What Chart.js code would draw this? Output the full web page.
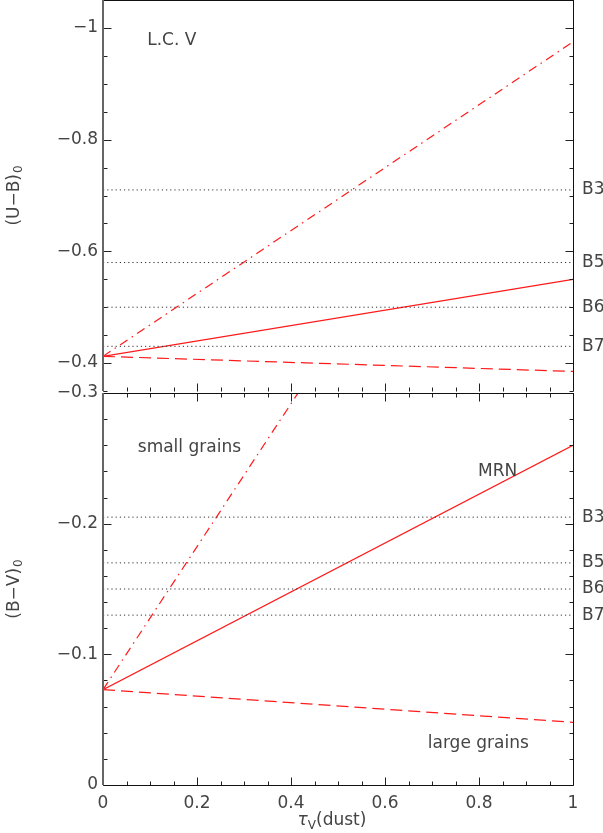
<!DOCTYPE html>
<html>
<head>
<meta charset="utf-8">
<script src="https://cdn.jsdelivr.net/npm/chart.js@4.4.1/dist/chart.umd.min.js"></script>
<style>
  html, body { margin: 0; padding: 0; background: #fff; }
  #wrap { position: relative; width: 603px; height: 833px; overflow: hidden; }
  canvas { position: absolute; left: 0; }
  #top { top: 0; }
  #bottom { top: 373px; }
</style>
</head>
<body>
<div id="wrap">
  <canvas id="top" width="603" height="392"></canvas>
  <canvas id="bottom" width="603" height="462"></canvas>
</div>
<script>
// optical depth of the dust shell
const tau = [0, 1];

// (U-B)0 of a B star seen through the dust: MRN, small grains, large grains
const ubMRN = [-0.412, -0.55];
const ubSmall = [-0.412, -0.975];
const ubLarge = [-0.412, -0.385];

// (B-V)0 for the same three grain models
const bvMRN = [-0.073, -0.26];
const bvSmall = [-0.073, -0.62];
const bvLarge = [-0.073, -0.048];

// intrinsic colours of luminosity class V stars
const spTypes = ['B3', 'B5', 'B6', 'B7'];
const ubStars = [-0.71, -0.58, -0.50, -0.43];
const bvStars = [-0.205, -0.17, -0.15, -0.13];

const FONT = "'DejaVu Sans', 'Liberation Sans', sans-serif";
const INK = '#444';
const RED = '#ff1a1a';

function pts(ys) {
    return tau.map((t, i) => ({ x: t, y: ys[i] }));
}

function track(ys, dash) {
    return {
        data: pts(ys),
        borderColor: RED,
        borderWidth: 1.2,
        borderDash: dash,
        pointRadius: 0,
        showLine: true,
        fill: false
    };
}

function level(v) {
    return {
        data: tau.map(t => ({ x: t, y: v })),
        borderColor: '#333',
        borderWidth: 1,
        borderDash: [1.2, 3],
        pointRadius: 0,
        showLine: true,
        fill: false
    };
}

// only the major values get a label
function majorLabel(step) {
    return function (value) {
        const k = value / step;
        if (Math.abs(k - Math.round(k)) > 1e-6) return null;
        if (Math.abs(value) < 1e-9) return '0';
        const s = Math.abs(value).toFixed(1).replace(/\.0$/, '');
        return (value < 0 ? '\u2212' : '') + s;
    };
}

function isMajor(v, step) {
    const k = v / step;
    return Math.abs(k - Math.round(k)) < 1e-6;
}

const crisp = v => Math.round(v) + 0.5;

// frame with inward ticks, PGPLOT style
const framePlugin = {
    id: 'frame',
    afterDatasetsDraw(chart, args, opts) {
        const { ctx, chartArea: a, scales } = chart;
        const ys = scales.y, xs = scales.x;
        const L = crisp(a.left), R = crisp(a.right), T = crisp(a.top), B = crisp(a.bottom);
        ctx.save();
        ctx.lineWidth = 1;
        ctx.strokeStyle = '#222';

        // y ticks on both sides
        let n = Math.round((ys.max - ys.min) / opts.yMinor);
        for (let i = 0; i <= n; i++) {
            const v = ys.min + i * opts.yMinor;
            const p = crisp(ys.getPixelForValue(v));
            const len = isMajor(v, opts.yMajor) ? 8 : 4;
            ctx.beginPath();
            ctx.moveTo(L, p); ctx.lineTo(L + len, p);
            ctx.moveTo(R, p); ctx.lineTo(R - len, p);
            ctx.stroke();
        }

        // x ticks on top and/or bottom edge
        n = Math.round(1 / 0.05);
        for (let i = 0; i <= n; i++) {
            const v = xs.min + i * 0.05;
            const p = crisp(xs.getPixelForValue(v));
            const len = isMajor(v, 0.2) ? 8 : 4;
            ctx.beginPath();
            if (opts.topTicks) { ctx.moveTo(p, T); ctx.lineTo(p, T + len); }
            if (opts.bottomTicks) { ctx.moveTo(p, B); ctx.lineTo(p, B - len); }
            ctx.stroke();
        }

        // box
        ctx.strokeStyle = '#111';
        ctx.beginPath();
        ctx.moveTo(L, T); ctx.lineTo(R, T);
        if (opts.bottomLine) { ctx.moveTo(L, B); ctx.lineTo(R, B); }
        ctx.moveTo(R, a.top); ctx.lineTo(R, a.bottom);
        ctx.stroke();
        ctx.strokeStyle = '#666';
        ctx.lineWidth = 2;
        ctx.beginPath();
        ctx.moveTo(Math.round(a.left), a.top); ctx.lineTo(Math.round(a.left), a.bottom);
        ctx.stroke();

        // text notes placed in data coordinates
        ctx.fillStyle = INK;
        ctx.font = '17px ' + FONT;
        ctx.textBaseline = 'middle';
        ctx.textAlign = 'left';
        opts.notes.forEach(n => {
            ctx.fillText(n.text, xs.getPixelForValue(n.x), ys.getPixelForValue(n.y));
        });
        opts.levels.forEach((v, i) => {
            ctx.fillText(spTypes[i], a.right + 9, ys.getPixelForValue(v));
        });

        // rotated axis title with subscript
        const cy = (a.top + a.bottom) / 2;
        ctx.translate(19, cy);
        ctx.rotate(-Math.PI / 2);
        ctx.textBaseline = 'alphabetic';
        ctx.font = '17px ' + FONT;
        const w1 = ctx.measureText(opts.yTitle).width;
        ctx.font = '12px ' + FONT;
        const w2 = ctx.measureText('0').width;
        const u0 = -(w1 + w2 + 1) / 2;
        ctx.font = '17px ' + FONT;
        ctx.fillText(opts.yTitle, u0, 0);
        ctx.font = '12px ' + FONT;
        ctx.fillText('0', u0 + w1 + 1, 3);
        ctx.restore();

        if (opts.xTitle) {
            ctx.save();
            ctx.fillStyle = INK;
            ctx.textBaseline = 'alphabetic';
            ctx.textAlign = 'left';
            const base = a.bottom + 40;
            ctx.font = 'italic 17px ' + FONT;
            const wt = ctx.measureText('\u03c4').width;
            ctx.font = '12px ' + FONT;
            const wv = ctx.measureText('V').width;
            ctx.font = '17px ' + FONT;
            const wd = ctx.measureText('(dust)').width;
            const x0 = (a.left + a.right) / 2 - (wt + wv + wd) / 2 - 6;
            ctx.font = 'italic 17px ' + FONT;
            ctx.fillText('\u03c4', x0, base);
            ctx.font = '12px ' + FONT;
            ctx.fillText('V', x0 + wt, base + 4);
            ctx.font = '17px ' + FONT;
            ctx.fillText('(dust)', x0 + wt + wv, base);
            ctx.restore();
        }
    }
};

function yAxis(min, max, major) {
    return {
        type: 'linear',
        reverse: true,
        min: min,
        max: max,
        grid: { display: false, drawTicks: false },
        border: { display: false },
        ticks: {
            stepSize: major,
            maxTicksLimit: 100,
            autoSkip: false,
            padding: 5,
            color: INK,
            font: { family: FONT, size: 17 },
            callback: majorLabel(major)
        },
        afterFit(scale) {
            scale.width = 103;
            scale.paddingTop = 0;
            scale.paddingBottom = 0;
        }
    };
}

const topDatasets = [
    ...ubStars.map(level),
    track(ubMRN, []),
    track(ubSmall, [9, 5, 1.5, 5]),
    track(ubLarge, [12, 6])
];

new Chart(document.getElementById('top'), {
    type: 'scatter',
    data: { datasets: topDatasets },
    options: {
        responsive: false,
        animation: false,
        devicePixelRatio: 1,
        layout: { autoPadding: false, padding: { left: 0, right: 30, top: 0, bottom: 1 } },
        plugins: {
            legend: { display: false },
            tooltip: { enabled: false },
            frame: {
                yMinor: 0.05, yMajor: 0.2, topTicks: false, bottomTicks: true, bottomLine: false,
                levels: ubStars,
                notes: [{ text: 'L.C. V', x: 0.094, y: -0.978 }],
                yTitle: '(U\u2212B)'
            }
        },
        scales: {
            x: { type: 'linear', min: 0, max: 1, display: false },
            y: yAxis(-1.05, -0.35, 0.2)
        }
    },
    plugins: [framePlugin]
});

const bottomDatasets = [
    ...bvStars.map(level),
    track(bvMRN, []),
    track(bvSmall, [9, 5, 1.5, 5]),
    track(bvLarge, [12, 6])
];

new Chart(document.getElementById('bottom'), {
    type: 'scatter',
    data: { datasets: bottomDatasets },
    options: {
        responsive: false,
        animation: false,
        devicePixelRatio: 1,
        layout: { autoPadding: false, padding: { left: 0, right: 30, top: 20, bottom: 0 } },
        plugins: {
            legend: { display: false },
            tooltip: { enabled: false },
            frame: {
                yMinor: 0.02, yMajor: 0.1, topTicks: true, bottomTicks: true, bottomLine: true,
                levels: bvStars,
                notes: [
                    { text: 'small grains', x: 0.074, y: -0.2585 },
                    { text: 'MRN', x: 0.798, y: -0.240 },
                    { text: 'large grains', x: 0.691, y: -0.032 }
                ],
                yTitle: '(B\u2212V)',
                xTitle: true
            }
        },
        scales: {
            x: {
                type: 'linear',
                min: 0,
                max: 1,
                grid: { display: false, drawTicks: false },
                border: { display: false },
                ticks: {
                    stepSize: 0.2,
                    maxTicksLimit: 100,
                    autoSkip: false,
                    padding: 8,
                    color: INK,
                    font: { family: FONT, size: 17 },
                    callback: majorLabel(0.2)
                },
                afterFit(scale) {
                    scale.height = 50;
                    scale.paddingLeft = 0;
                    scale.paddingRight = 0;
                }
            },
            y: yAxis(-0.3, 0, 0.1)
        }
    },
    plugins: [framePlugin]
});
</script>
</body>
</html>
